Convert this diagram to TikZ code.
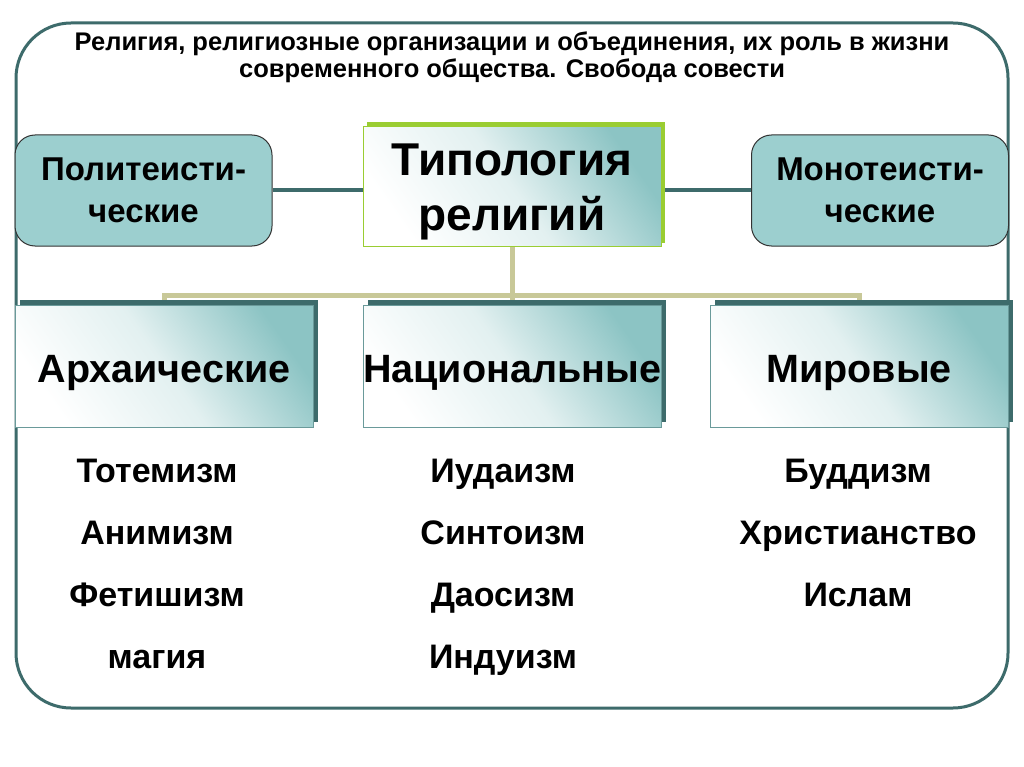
\documentclass[tikz,border=0pt]{standalone}
\usepackage{fontspec}
\setmainfont{Liberation Sans}
\usetikzlibrary{shadows,backgrounds}
\definecolor{frameteal}{HTML}{3D6B6B}
\definecolor{sidefill}{HTML}{9CCFCF}
\definecolor{gradteal}{HTML}{8CC4C4}
\definecolor{leafgreen}{HTML}{9ACD32}
\definecolor{khakiline}{HTML}{C8C898}
\definecolor{boxborder}{HTML}{6A9A9A}
\tikzset{
  gradfill/.style={top color=gradteal, bottom color=white, middle color=white!75!gradteal, shading angle=-55},
  typbox/.style={gradfill, draw=leafgreen, line width=0.8pt, minimum width=298pt, minimum height=120pt,
    drop shadow={shadow xshift=4pt, shadow yshift=4pt, fill=leafgreen, opacity=1}},
  typtext/.style={align=center, font=\bfseries\fontsize{46}{55}\selectfont},
  catbox/.style={gradfill, draw=boxborder, line width=0.8pt, minimum width=298pt, minimum height=122pt,
    inner xsep=0pt, font=\bfseries\fontsize{39.5}{48}\selectfont, text height=32.3pt, text depth=0pt,
    drop shadow={shadow xshift=5pt, shadow yshift=5pt, fill=frameteal, opacity=1}},
  sidebox/.style={fill=sidefill, draw=black!80, line width=1pt, rounded corners=20pt,
    minimum width=257pt, minimum height=111pt, align=center,
    font=\bfseries\fontsize{33}{42}\selectfont},
  item/.style={anchor=base, font=\bfseries\fontsize{34}{40}\selectfont},
  sideline/.style={draw=frameteal, line width=4pt},
  treeline/.style={draw=khakiline, line width=5pt},
}
\begin{document}
\begin{tikzpicture}[x=1pt,y=-1pt]
\useasboundingbox (0,0) rectangle (1024,767);
\draw[frameteal, line width=3pt, rounded corners=55pt] (16,23) rectangle (1008,708);
\node[font=\bfseries\fontsize{25.5}{27}\selectfont, align=center] (title) at (512,57)
  {Религия, религиозные организации и объединения, их роль в жизни\\современного общества. Свобода совести};

\node[typbox] (typ) at (512,186.5) {};
\node[typtext] (typlabel) at (512,192) {Типология\\религий};
\node[sidebox] (poly) at (143.5,190.5) {Политеисти-\\ческие};
\node[sidebox] (mono) at (880,190.5) {Монотеисти-\\ческие};

\node[catbox] (arch) at (164,366) {Архаические};
\node[catbox] (nat) at (512,366) {Национальные};
\node[catbox] (mir) at (859,366) {Мировые};

\coordinate (j) at (512,295);
\begin{pgfonlayer}{background}
\fill[white] (0,0) rectangle (1024,767);
\draw[sideline] (poly.east) -- (poly.east -| typ.west);
\draw[sideline] (mono.west) -- (mono.west -| typ.east);
\draw[treeline] (typ.south) -- (nat.north);
\draw[treeline] (arch.north) |- (j) -| (mir.north);
\end{pgfonlayer}

\node[item] (a1) at (157,482) {Тотемизм};
\node[item] (a2) at (157,544) {Анимизм};
\node[item] (a3) at (157,606) {Фетишизм};
\node[item] (a4) at (157,668) {магия};
\node[item] (n1) at (503,482) {Иудаизм};
\node[item] (n2) at (503,544) {Синтоизм};
\node[item] (n3) at (503,606) {Даосизм};
\node[item] (n4) at (503,668) {Индуизм};
\node[item] (m1) at (858,482) {Буддизм};
\node[item] (m2) at (858,544) {Христианство};
\node[item] (m3) at (858,606) {Ислам};
\end{tikzpicture}
\end{document}
